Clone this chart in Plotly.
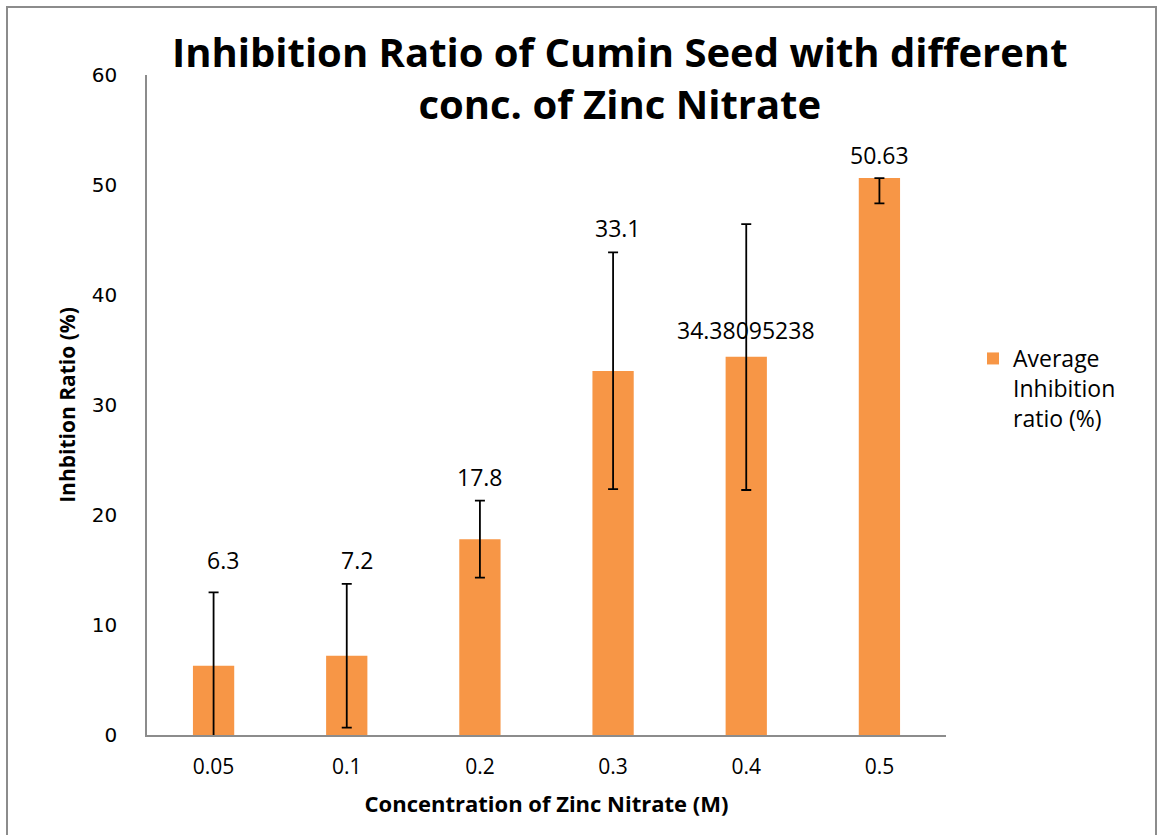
import plotly.graph_objects as go

# ---- data ----
categories = ["0.05", "0.1", "0.2", "0.3", "0.4", "0.5"]
avg_inhibition = [6.3, 7.2, 17.8, 33.1, 34.38095238, 50.63]
err_plus = [6.67, 6.53, 3.5, 10.78, 12.07, 0.0]
err_minus = [6.67, 6.53, 3.5, 10.74, 12.11, 2.3]
label_texts = ["6.3", "7.2", "17.8", "33.1", "34.38095238", "50.63"]
y_ticks = [0, 10, 20, 30, 40, 50, 60]

# ---- label placement offsets (pixels, layout only) ----
label_yshift = [106, 96, 62, 143, 27, 23]
label_xshift = [9, 10, 0, 5, 0, 0]

ORANGE = "#F79646"
W, H = 1158, 835
L, R, T, B = 147, 212, 75, 100
PW, PH = W - L - R, H - T - B

fig = go.Figure()
fig.add_trace(go.Bar(
    x=categories, y=avg_inhibition,
    name="Average<br>Inhibition<br>ratio (%)",
    marker=dict(color=ORANGE, line=dict(width=0)),
    error_y=dict(type="data", symmetric=False, array=err_plus,
                 arrayminus=err_minus, color="black", thickness=1.8, width=5),
))

annotations = []
for i, (t, ys, xs, v) in enumerate(zip(label_texts, label_yshift, label_xshift, avg_inhibition)):
    annotations.append(dict(x=i, y=v, xref="x", yref="y", text=t, showarrow=False,
                            yshift=ys, xshift=xs, yanchor="middle",
                            font=dict(family="Open Sans", size=23, color="black")))

# chart title as a paper annotation
annotations.append(dict(
    text="<b>Inhibition Ratio of Cumin Seed with different<br>conc. of Zinc Nitrate</b>",
    xref="paper", yref="paper", x=(620 - L) / PW, y=1 + (T - 78) / PH,
    xanchor="center", yanchor="middle", showarrow=False,
    font=dict(family="Open Sans", size=40, color="black")))

fig.update_layout(
    width=W, height=H,
    margin=dict(l=L, r=R, t=T, b=B, autoexpand=False),
    paper_bgcolor="white", plot_bgcolor="white",
    bargap=0.69,
    xaxis=dict(showline=True, linecolor="#8c8c8c", linewidth=1.5, showgrid=False,
               ticks="", ticklabelstandoff=12,
               tickfont=dict(family="Open Sans", size=21, color="black"),
               title=dict(text="<b>Concentration of Zinc Nitrate (M)</b>",
                          font=dict(family="Open Sans", size=22, color="black"),
                          standoff=18)),
    yaxis=dict(range=[0, 60], tickvals=y_ticks, showline=True, linecolor="#8c8c8c", linewidth=1.5,
               showgrid=False, zeroline=False, ticks="", ticklabelstandoff=24,
               tickfont=dict(family="DejaVu Sans", size=20, color="black"),
               title=dict(text="<b>Inhbition Ratio (%)</b>",
                          font=dict(family="Open Sans", size=21, color="black"),
                          standoff=10)),
    showlegend=True,
    legend=dict(x=(973 - L) / PW, xanchor="left", y=1 - (337 - T) / PH,
                yanchor="top", valign="top",
                font=dict(family="Open Sans", size=23, color="black"), bgcolor="rgba(0,0,0,0)"),
    annotations=annotations,
    shapes=[dict(type="rect", xref="paper", yref="paper",
                 x0=(7 - L) / PW, x1=(1156 - L) / PW,
                 y0=-(B + 10) / PH, y1=1 + (T - 7) / PH,
                 line=dict(color="#8c8c8c", width=2), fillcolor="rgba(0,0,0,0)", layer="below")],
)

fig.write_html("out.html", config={"displayModeBar": False},
               post_script="document.body.style.margin='0';")
